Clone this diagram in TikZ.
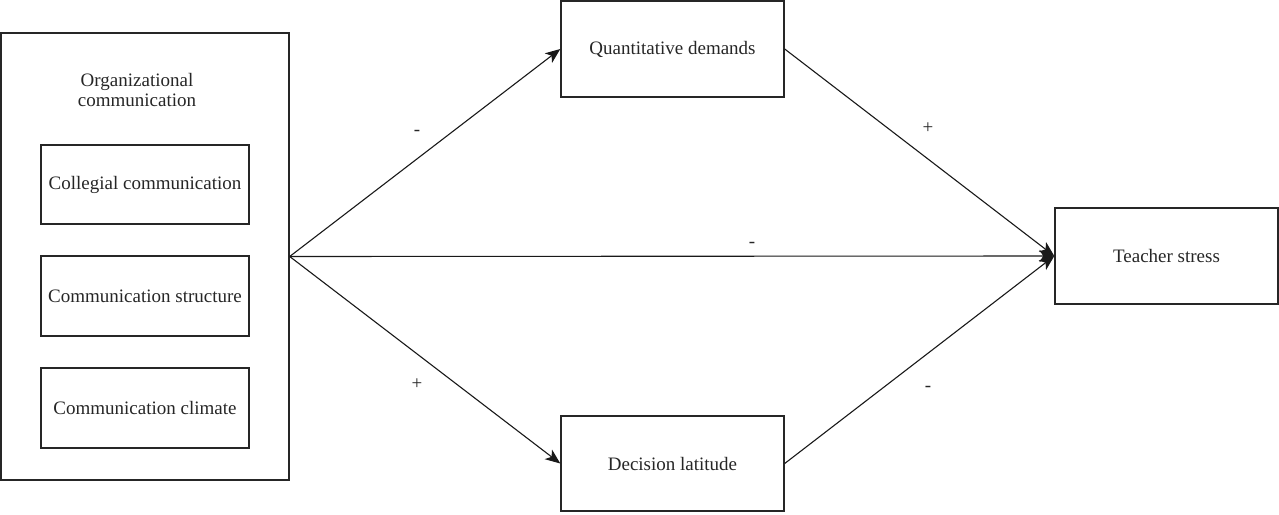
\documentclass[tikz,border=0pt]{standalone}
\usepackage{fontspec}
\setmainfont{Liberation Serif}
\usetikzlibrary{arrows.meta}
\begin{document}
\begin{tikzpicture}[x=1pt,y=-1pt,
  box/.style={draw=black!85,line width=1.4pt,inner sep=0pt,font=\fontsize{19}{21}\selectfont,text=black!85,align=center},
  conn/.style={draw=black!90,line width=1.1pt},
  arr/.style={conn,-{Stealth[length=15pt,width=12pt,inset=4pt]}},
  sign/.style={font=\fontsize{19}{21}\selectfont,text=black!85}]
\useasboundingbox (0,0) rectangle (1279,514);
\node[box,minimum width=288pt,minimum height=447pt] (org) at (145,256.5) {};
\node[font=\fontsize{19}{20}\selectfont,text=black!85,align=center] (orgt) at (137,90) {Organizational\\communication};
\node[box,minimum width=208pt,minimum height=79pt] (cc) at (145,184.5) {Collegial communication};
\node[box,minimum width=208pt,minimum height=80pt] (cs) at (145,296) {Communication structure};
\node[box,minimum width=208pt,minimum height=80pt] (cl) at (145,408) {Communication climate};
\node[box,minimum width=223pt,minimum height=96pt] (qd) at (672.5,49) {Quantitative demands};
\node[box,minimum width=223pt,minimum height=95pt] (dl) at (672.5,463.5) {Decision latitude};
\node[box,minimum width=223pt,minimum height=96pt] (ts) at (1166.5,256) {Teacher stress};
\draw[arr] (org.east) -- (qd.west);
\draw[arr] (org.east) -- (ts.west);
\draw[arr] (org.east) -- (dl.west);
\draw[arr] (qd.east) -- (ts.west);
\draw[arr] (dl.east) -- (ts.west);
\node[sign] (s1) at (417,133) {-};
\node[sign] (s2) at (928,128) {+};
\node[sign] (s3) at (752,245) {-};
\node[sign] (s4) at (417,384) {+};
\node[sign] (s5) at (928,389) {-};
\end{tikzpicture}
\end{document}
